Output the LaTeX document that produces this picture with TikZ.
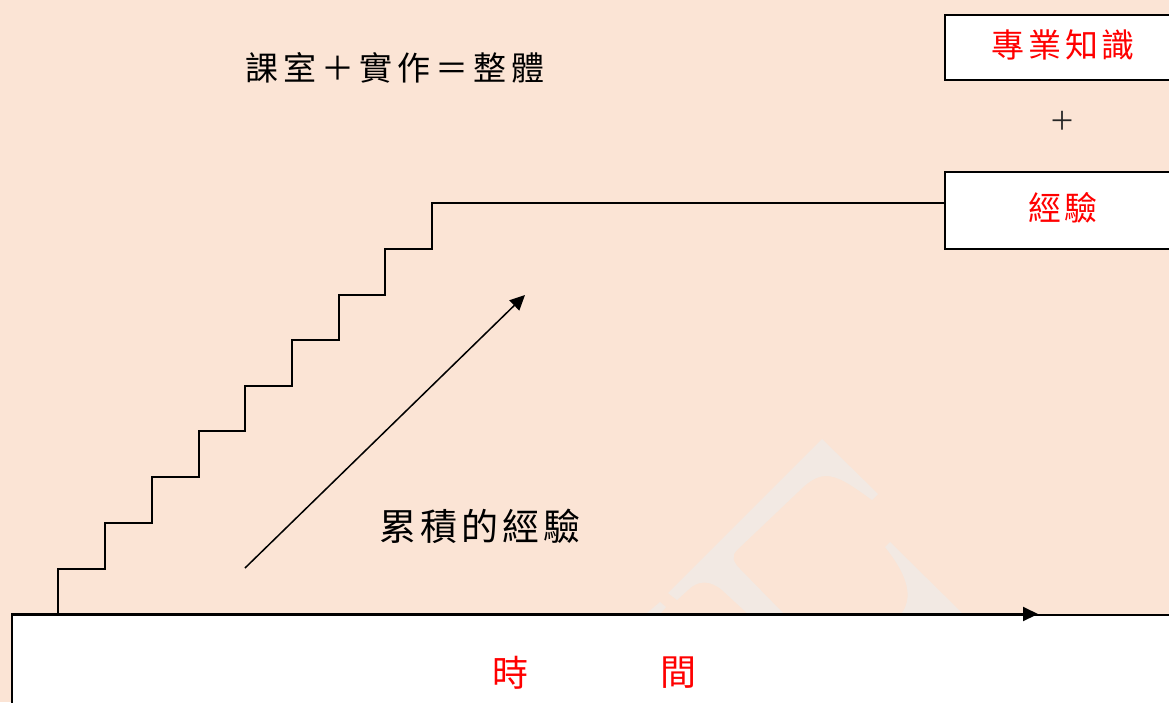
\documentclass[tikz,border=0pt]{standalone}
\usepackage{fontspec}
\newfontfamily\cjk{Noto Sans CJK TC}
\usetikzlibrary{arrows.meta}
\definecolor{bgpeach}{RGB}{251,228,213}
\definecolor{wmark}{RGB}{242,233,227}
\definecolor{redtxt}{RGB}{255,0,0}
\tikzset{
  boxstyle/.style={draw=black,line width=2pt,fill=white,inner sep=0pt},
  redlabel/.style={text=redtxt,font=\cjk\fontsize{33}{38}\selectfont,inner sep=0pt},
  blacklabel/.style={text=black,font=\cjk\fontsize{33}{38}\selectfont,inner sep=0pt},
  linestyle/.style={draw=black,line width=1.6pt},
  arrowstyle/.style={draw=black,line width=1.5pt,-{Triangle[length=15pt,width=14pt]}}
}
\begin{document}
\begin{tikzpicture}[x=1pt,y=-1pt]
\useasboundingbox (0,0) rectangle (1169,702);
\clip (0,0) rectangle (1169,702);
\fill[bgpeach] (0,0) rectangle (1169,702);
% watermark
\fill[wmark] (822,439) -- (878,494) -- (872,500)
  .. controls (850,484) and (838,476) .. (826,476)
  .. controls (815,476) and (806,484) .. (798,492)
  -- (737,550) .. controls (731,556) and (733,562) .. (740,569)
  -- (783,613) -- (747,613) -- (722,590)
  .. controls (710,580) and (698,580) .. (688,590)
  -- (677,600) -- (668,593) -- cycle;
\fill[wmark] (890,542) -- (962,613) -- (902,613)
  .. controls (912,598) and (910,578) .. (885,547) -- cycle;
\fill[wmark] (647,613) -- (660,602) -- (666,607) -- (661,613) -- cycle;
% boxes
\node[boxstyle,minimum width=236pt,minimum height=65pt] (know) at (1063,47.5) {};
\node[redlabel] (knowtxt) at (1063,45) {專\kern4pt 業\kern4pt 知\kern4pt 識};
\node[text=black!85,font=\cjk\fontsize{26}{30}\selectfont,inner sep=0pt] (plus) at (1062,121) {＋};
\node[boxstyle,minimum width=236pt,minimum height=77pt] (exp) at (1063,210.5) {};
\node[redlabel] (exptxt) at (1063,208) {經\kern3pt 驗};
\node[boxstyle,minimum width=1170pt,minimum height=120pt,anchor=north west] (time) at (11,614) {};
\node[redlabel,font=\cjk\fontsize{36}{40}\selectfont] (shi) at (510,673) {時};
\node[redlabel,font=\cjk\fontsize{36}{40}\selectfont] (jian) at (678,673) {間};
% title and label
\node[blacklabel] (title) at (395,68) {課\kern5pt 室\kern5pt ＋\kern5pt 實\kern5pt 作\kern5pt ＝\kern5pt 整\kern5pt 體};
\node[blacklabel,font=\cjk\fontsize{37}{42}\selectfont] (accum) at (480,526) {累\kern4pt 積\kern4pt 的\kern4pt 經\kern4pt 驗};
% staircase
\coordinate (s0) at (58,614);
\coordinate (stop) at (945,203);
\draw[linestyle] (s0) -- (58,569) -- (105,569) -- (105,523) -- (152,523) -- (152,477)
  -- (199,477) -- (199,431) -- (245,431) -- (245,386) -- (292,386) -- (292,340)
  -- (339,340) -- (339,295) -- (385,295) -- (385,249) -- (432,249) -- (432,203) -- (stop);
% arrows
\coordinate (d0) at (245,568);
\coordinate (d1) at (525,295);
\draw[arrowstyle] (d0) -- (d1);
\coordinate (tend) at (1038,614);
\draw[arrowstyle,line width=2pt] (time.north west) -- (tend);
\end{tikzpicture}
\end{document}
